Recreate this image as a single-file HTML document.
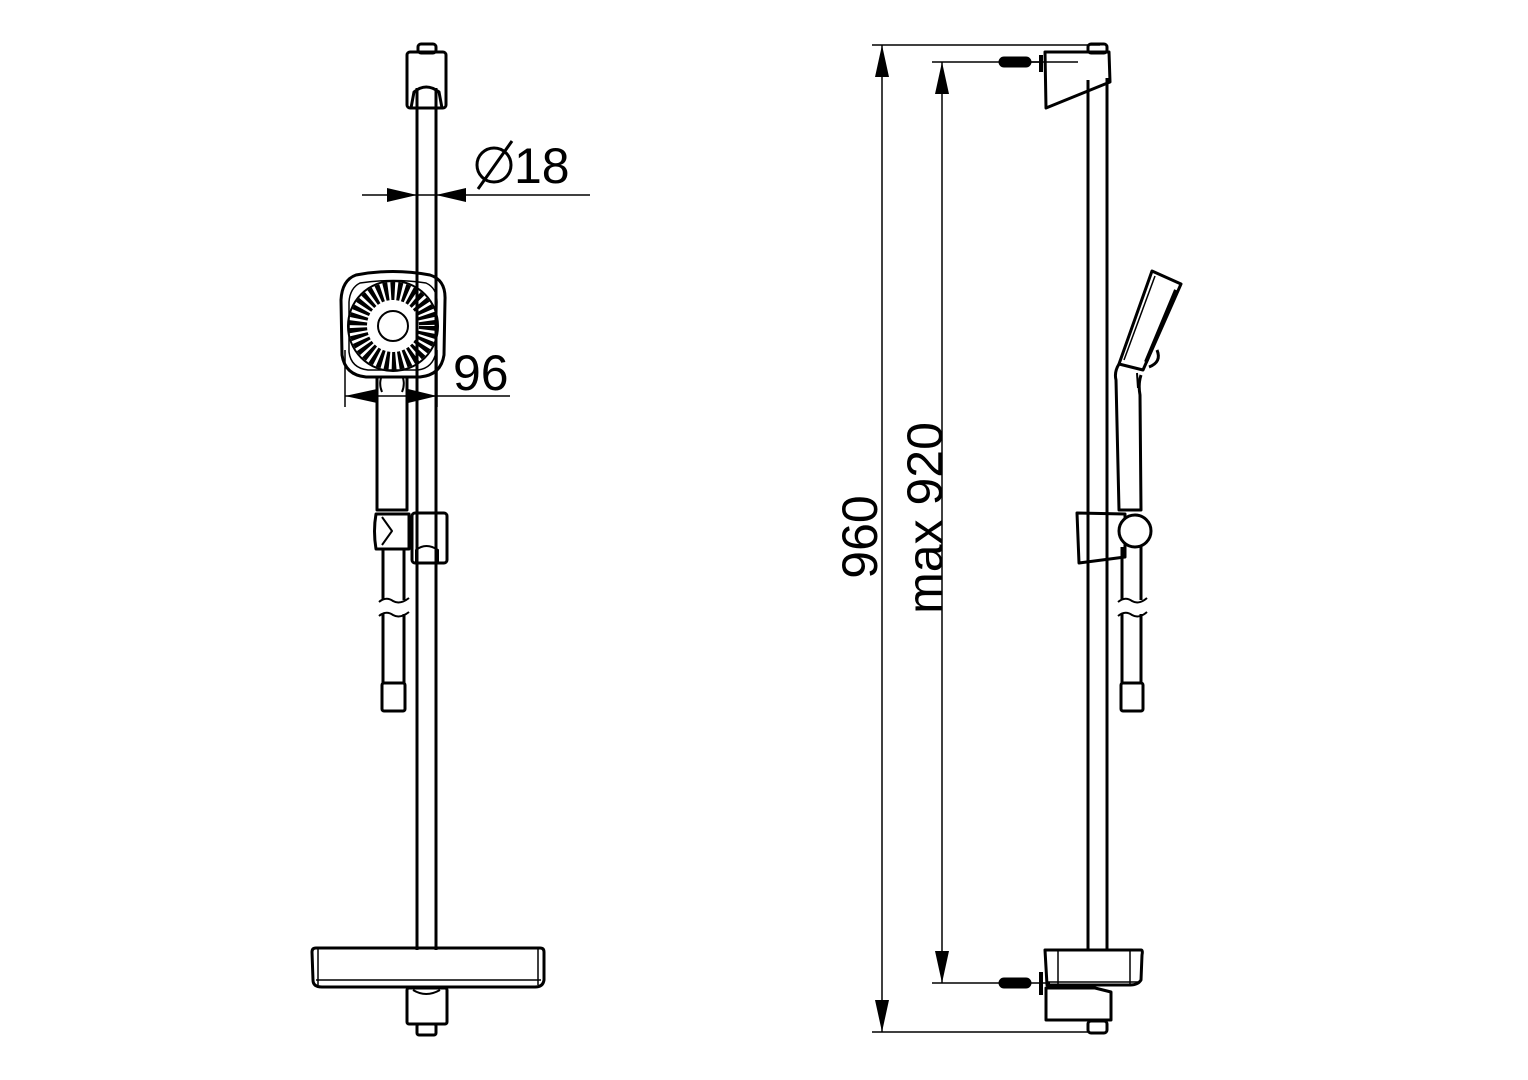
<!DOCTYPE html>
<html><head><meta charset="utf-8"><style>html,body{margin:0;padding:0;background:#fff}svg{display:block}</style></head>
<body>
<svg width="1528" height="1080" viewBox="0 0 1528 1080" xmlns="http://www.w3.org/2000/svg" font-family="Liberation Sans, Arial, sans-serif">
<g fill="none" stroke="#000" stroke-width="3" stroke-linejoin="round">
<line x1="417" y1="88" x2="417" y2="950"/>
<line x1="436" y1="88" x2="436" y2="950"/>
<rect x="418" y="44" width="18" height="9" rx="3"/>
<rect x="407" y="52" width="39" height="56" rx="3"/>
<path d="M411 108 L414 92 Q426 82 439 92 L442 108"/>
<path d="M356 275 Q393 268 430 275 Q446 280 445 300 L444 355 Q441 375 420 377 L366 377 Q345 375 342 355 L341 300 Q342 280 356 275 Z"/>
<path d="M360 283 Q393 278 426 283 Q437 288 437 302 L436 352 Q433 368 418 370 L368 370 Q351 368 349 352 L349 302 Q350 288 360 283 Z" stroke-width="1.5"/>
<circle cx="393" cy="326" r="45" stroke-width="2"/>
<circle cx="393" cy="326" r="35" stroke="#000" stroke-width="18" stroke-dasharray="4 2.5"/>
<circle cx="393" cy="326" r="15" fill="#fff" stroke-width="2"/>
<path d="M377 378 L377 510 L407 510 L407 378"/>
<path d="M381 378 Q379 385 382 392 M403 378 Q405 385 402 392" stroke-width="2"/>
<path d="M376 514 L409 514 L409 549 L376 549 Q373 531 376 514 Z"/>
<path d="M382 517 L392 531 L382 545" stroke-width="2"/>
<rect x="412" y="513" width="35" height="50" rx="3"/>
<path d="M416 563 L416 550 Q426 542 438 550 L438 563" stroke-width="2"/>
<line x1="383" y1="549" x2="383" y2="600"/><line x1="404" y1="549" x2="404" y2="600"/>
<line x1="383" y1="614" x2="383" y2="684"/><line x1="404" y1="614" x2="404" y2="684"/>
<path d="M379 602 Q386 596 393 601 Q400 605 409 598 M379 616 Q386 610 393 615 Q400 619 409 612" stroke-width="2"/>
<rect x="382" y="683" width="23" height="28" rx="2"/>
<path d="M312 952 Q312 948 316 948 L540 948 Q544 948 544 952 L544 980 Q543 987 535 987 L322 987 Q313 987 313 980 Z"/>
<path d="M318 949 L318 985 M538 949 L538 985 M316 980 L541 980" stroke-width="1.5"/>
<rect x="407" y="988" width="40" height="36" rx="2"/>
<path d="M413 990 Q426 998 440 990" stroke-width="2"/>
<rect x="417" y="1024" width="19" height="11" rx="2"/>
</g>

<g stroke="#000" stroke-width="1.5" fill="none">
<line x1="362" y1="195" x2="590" y2="195"/>
<line x1="345" y1="350" x2="345" y2="407"/>
<line x1="437" y1="350" x2="437" y2="407"/>
<line x1="345" y1="396" x2="510" y2="396"/>
</g>
<g fill="#000">
<polygon points="417,195 387,188 387,202"/>
<polygon points="436,195 466,188 466,202"/>
<polygon points="345,396 377,389 377,403"/>
<polygon points="437,396 408,389 408,403"/>
</g>
<text x="514" y="183" font-size="50" fill="#000">18</text>
<circle cx="494" cy="165" r="17" fill="none" stroke="#000" stroke-width="3"/>
<line x1="478" y1="189" x2="512" y2="141" stroke="#000" stroke-width="3"/>
<text x="453" y="390" font-size="50" fill="#000">96</text>

<g fill="none" stroke="#000" stroke-width="3" stroke-linejoin="round">
<line x1="1088" y1="80" x2="1088" y2="950"/>
<line x1="1107" y1="78" x2="1107" y2="950"/>
<rect x="1088" y="44" width="19" height="9" rx="3"/>
<path d="M1045 52 L1109 52 L1110 82 L1046 108 Z"/>
<path d="M1002 62 L1042 62" stroke-width="1.5"/>
<rect x="1000" y="58" width="30" height="8" rx="4" fill="#000"/>
<line x1="1041" y1="55" x2="1041" y2="72" stroke-width="4"/>
<path d="M1152 271 L1181 284 L1143 370 L1119 364 Z"/>
<path d="M1155 276 L1124 360" stroke-width="1.5"/>
<path d="M1176 290 L1146 362" stroke-width="4"/>
<path d="M1149 367 Q1162 362 1157 350"/>
<path d="M1119 364 Q1114 372 1116 380 L1119 510 L1141 510 L1140 395 Q1138 384 1141 375"/>
<path d="M1137 373 L1138 388" stroke-width="2"/>
<path d="M1077 513 L1125 514 L1125 557 L1079 563 Z"/>
<circle cx="1135" cy="531" r="16" fill="#fff"/>
<line x1="1122" y1="547" x2="1122" y2="600"/><line x1="1141" y1="546" x2="1141" y2="600"/>
<line x1="1122" y1="614" x2="1122" y2="684"/><line x1="1141" y1="614" x2="1141" y2="684"/>
<path d="M1118 602 Q1125 596 1132 601 Q1139 605 1147 598 M1118 616 Q1125 610 1132 615 Q1139 619 1147 612" stroke-width="2"/>
<rect x="1121" y="683" width="22" height="28" rx="2"/>
<path d="M1045 950 L1141 950 Q1143 950 1142 955 L1141 980 Q1138 985 1130 985 L1047 985 Z"/>
<path d="M1058 950 L1058 984 M1130 950 L1130 984 M1047 982 L1138 982" stroke-width="1.5"/>
<path d="M1046 988 L1095 988 L1111 992 L1111 1020 L1046 1020 Z"/>
<rect x="1088" y="1021" width="19" height="12" rx="3"/>
<rect x="1000" y="979" width="30" height="8" rx="4" fill="#000"/>
<line x1="1041" y1="972" x2="1041" y2="995" stroke-width="4"/>
</g>

<g stroke="#000" stroke-width="1.5" fill="none">
<line x1="872" y1="45" x2="1100" y2="45"/>
<line x1="872" y1="1032" x2="1090" y2="1032"/>
<line x1="882" y1="45" x2="882" y2="1032"/>
<line x1="932" y1="62" x2="1078" y2="62"/>
<line x1="932" y1="983" x2="1050" y2="983"/>
<line x1="942" y1="62" x2="942" y2="983"/>
</g>
<g fill="#000">
<polygon points="882,45 875,77 889,77"/>
<polygon points="882,1032 875,1000 889,1000"/>
<polygon points="942,62 935,94 949,94"/>
<polygon points="942,983 935,951 949,951"/>
</g>
<text transform="translate(877,537) rotate(-90)" text-anchor="middle" font-size="50" fill="#000">960</text>
<text transform="translate(942,518) rotate(-90)" text-anchor="middle" font-size="50" fill="#000">max 920</text>
</svg>
</body></html>
